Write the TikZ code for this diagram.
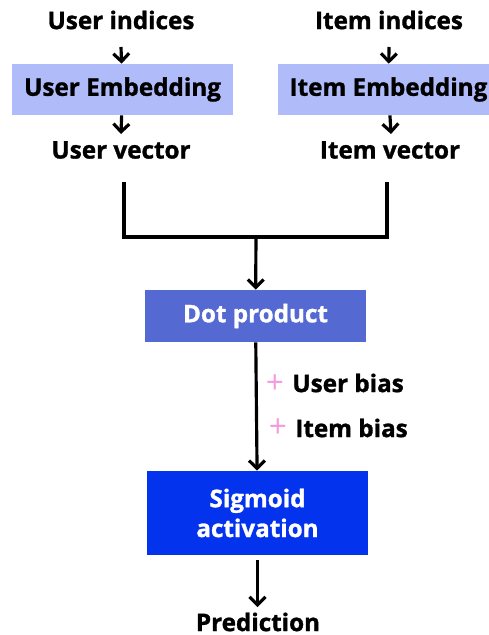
\documentclass[tikz,border=0pt]{standalone}
\usepackage{fontspec}
\setmainfont{Open Sans}[BoldFeatures={FakeBold=1.2}]
\usetikzlibrary{arrows.meta, positioning}
\definecolor{embfill}{HTML}{B0BCFA}
\definecolor{dotfill}{HTML}{5569D3}
\definecolor{sigfill}{HTML}{0433EE}
\definecolor{pluspink}{HTML}{F49BE0}

\begin{document}
\begin{tikzpicture}[x=0.02cm, y=-0.02cm, font=\bfseries\fontsize{13.8}{17}\selectfont,
    emb/.style = {fill=embfill, minimum width=4.42cm, minimum height=1.02cm, inner sep=0pt},
    op/.style = {fill=#1, text=white, minimum width=4.42cm, inner sep=0pt},
    lbl/.style = {inner sep=0pt},
    plus/.style = {inner sep=0pt, text=pluspink, font=\mdseries\fontsize{18}{18}\selectfont},
    arr/.style = {line width=1.8pt, -{Straight Barb[length=4.5pt, width=9pt, line width=1.8pt]}},
    bar/.style = {line width=2.2pt}]
  \useasboundingbox (0,0) rectangle (489,635);

  \node[lbl] (uidx) at (121,20)  {User indices};
  \node[lbl] (iidx) at (389,20)  {Item indices};
  \node[emb] (uemb) at (122.5,89.5) {User Embedding};
  \node[emb] (iemb) at (388.5,89.5) {Item Embedding};
  \node[lbl] (uvec) at (121,150) {User vector};
  \node[lbl] (ivec) at (390,150) {Item vector};
  \node[op=dotfill, minimum height=1.04cm] (dot) at (255.5,316) {Dot product};
  \node[op=sigfill, minimum height=1.68cm, align=center] (sig) at (257.5,513)
      {Sigmoid\\activation};
  \node[lbl] (pred) at (258,622) {Prediction};

  \node[plus] (uplus) at (275,384) {+};
  \node[lbl, anchor=west] (ubias) at (292,383) {User bias};
  \node[plus] (iplus) at (278,428) {+};
  \node[lbl, anchor=west] (ibias) at (295,428) {Item bias};

  \coordinate (ujoin) at (124,237);
  \coordinate (ijoin) at (387,237);
  \coordinate (mid)   at (256,237);

  \draw[arr] (121,47) -- (uemb);
  \draw[arr] (389,47) -- (iemb);
  \draw[arr] (uemb) -- (121,134);
  \draw[arr] (iemb) -- (391,134);
  \draw[bar] (124,182) -- (ujoin) -- (ijoin) -- (387,182);
  \draw[arr] (mid) -- (dot);
  \draw[arr] (dot) -- (sig);
  \draw[arr] (257.5,560) -- (257.5,607);
\end{tikzpicture}
\end{document}
